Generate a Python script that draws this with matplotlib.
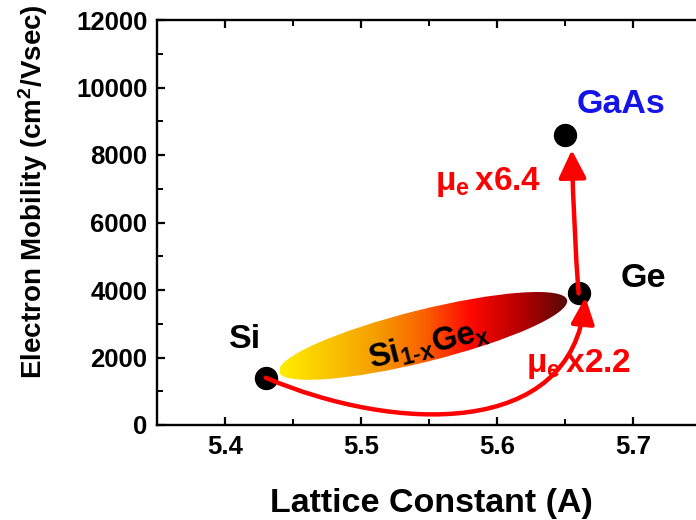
import numpy as np
import matplotlib
matplotlib.use("Agg")
import matplotlib.pyplot as plt
from matplotlib.patches import Ellipse, FancyArrowPatch, ArrowStyle
from matplotlib.path import Path
from matplotlib.colors import LinearSegmentedColormap
import matplotlib.transforms as mtransforms

plt.rcParams['font.family'] = ['Liberation Sans', 'DejaVu Sans']
plt.rcParams['font.weight'] = 'bold'
plt.rcParams['mathtext.fontset'] = 'custom'
plt.rcParams['mathtext.rm'] = 'Liberation Sans:bold'
plt.rcParams['mathtext.bf'] = 'Liberation Sans:bold'
plt.rcParams['mathtext.it'] = 'Liberation Sans:bold'

# ---- data ----
materials = ['Si', 'Ge', 'GaAs']
lattice = [5.43, 5.66, 5.65]
mobility = [1400, 3900, 8600]
x_ticks = [5.4, 5.5, 5.6, 5.7]
y_ticks = [0, 2000, 4000, 6000, 8000, 10000, 12000]
factor_sige = '2.2'
factor_gaas = '6.4'

W, H, DPI = 696, 520, 100
fig = plt.figure(figsize=(W / DPI, H / DPI), dpi=DPI)
ax = fig.add_axes([157 / W, 95 / H, 544 / W, 405 / H])
ax.set_xlim(5.35, 5.75)
ax.set_ylim(0, 12000)

# ---- SiGe gradient ellipse ----
ell_center = (5.5456, 2640)
ell_a_pt, ell_b_pt, ell_angle = 148.5 * 0.72, 26 * 0.72, 14.0
ell_tr = mtransforms.Affine2D().scale(DPI / 72) + mtransforms.ScaledTranslation(
    ell_center[0], ell_center[1], ax.transData)
ell = Ellipse((0, 0), 2 * ell_a_pt, 2 * ell_b_pt, angle=ell_angle,
              transform=ell_tr, facecolor='none', edgecolor='none')
ax.add_patch(ell)
cmap = LinearSegmentedColormap.from_list('sige', [
    (0.0, (1.0, 0.93, 0.0)),
    (0.33, (0.96, 0.62, 0.0)),
    (0.50, (0.98, 0.38, 0.0)),
    (0.66, (1.0, 0.03, 0.0)),
    (0.85, (0.68, 0.0, 0.0)),
    (1.0, (0.33, 0.04, 0.04))])
grad = np.linspace(0, 1, 256).reshape(1, -1)
im = ax.imshow(grad, cmap=cmap, aspect='auto', extent=(5.4404, 5.6522, 300, 5000),
               origin='lower', interpolation='bilinear', zorder=1)
im.set_clip_path(ell)
ax.set_xlim(5.35, 5.75)
ax.set_ylim(0, 12000)

# ---- points ----
ax.plot(lattice, mobility, 'o', color='black', markersize=15.8, zorder=3)

# ---- arrows ----
red = '#ff0000'
si, ge, gaas = (lattice[0], mobility[0]), (lattice[1], mobility[1]), (lattice[2], mobility[2])
tip1 = (5.665, 3790)
c1a = (5.525, -230)
c1b = (5.655, -420)
path1 = Path([si, c1a, c1b, tip1], [Path.MOVETO, Path.CURVE4, Path.CURVE4, Path.CURVE4])
style = ArrowStyle('-|>', head_length=0.8, head_width=0.35)
a1 = FancyArrowPatch(path=path1, arrowstyle=style, mutation_scale=20,
                     color=red, lw=3.2, zorder=4, clip_on=False)
ax.add_patch(a1)
tip2 = (5.655, 8150)
c2 = (5.6565, 5700)
path2 = Path([ge, c2, tip2], [Path.MOVETO, Path.CURVE3, Path.CURVE3])
style2 = ArrowStyle('-|>', head_length=0.85, head_width=0.42)
a2 = FancyArrowPatch(path=path2, arrowstyle=style2, mutation_scale=20,
                     color=red, lw=3.2, zorder=4, clip_on=False)
ax.add_patch(a2)

# ---- labels ----
fs = 24.5
ax.text(5.4147, 2281, materials[0], fontsize=fs, fontweight='bold', ha='center', va='baseline')
ax.text(5.7074, 4089, materials[1], fontsize=fs, fontweight='bold', ha='center', va='baseline')
ax.text(5.6912, 9244, materials[2], fontsize=fs, fontweight='bold', color='#1414e8',
        ha='center', va='baseline')
ax.text(5.5934, 6963, r'$\mathbf{\mu_e}\,$x' + factor_gaas, fontsize=24, fontweight='bold',
        color=red, ha='center', va='baseline', zorder=5)
ax.text(5.660, 1570, r'$\mathbf{\mu_e}\,$x' + factor_sige, fontsize=24, fontweight='bold',
        color=red, ha='center', va='baseline', zorder=3.5)
ax.text(5.5500, 2370, r'$\mathbf{Si_{1\text{-}x}Ge_x}$', fontsize=23.5, fontweight='bold',
        rotation=14, rotation_mode='anchor', ha='center', va='center', zorder=2)

# ---- axes styling ----
ax.set_xticks(x_ticks)
ax.set_yticks(y_ticks)
ax.set_xticks(np.arange(5.35, 5.751, 0.05), minor=True)
ax.set_yticks(np.arange(0, 12001, 1000), minor=True)
ax.set_xticklabels([f'{v:.1f}' for v in x_ticks])
ax.set_yticklabels([str(v) for v in y_ticks])
ax.tick_params(which='major', direction='in', length=6, width=1.6, labelsize=18.5,
               top=True, right=False, pad=7)
ax.tick_params(which='minor', direction='in', length=4, width=1.4, top=True, right=False)
for lab in ax.get_xticklabels() + ax.get_yticklabels():
    lab.set_fontweight('bold')
for sp in ax.spines.values():
    sp.set_linewidth(1.7)

fig.text(431 / W, 1 - 512 / H, 'Lattice Constant (A)', fontsize=24.5, fontweight='bold',
         ha='center', va='baseline')
fig.text(33 / W, 1 - 192 / H, r'Electron Mobility (cm$^\mathbf{2}$/Vsec)', fontsize=20,
         fontweight='bold', rotation=90, ha='center', va='center')

fig.savefig('out.png', dpi=DPI)
